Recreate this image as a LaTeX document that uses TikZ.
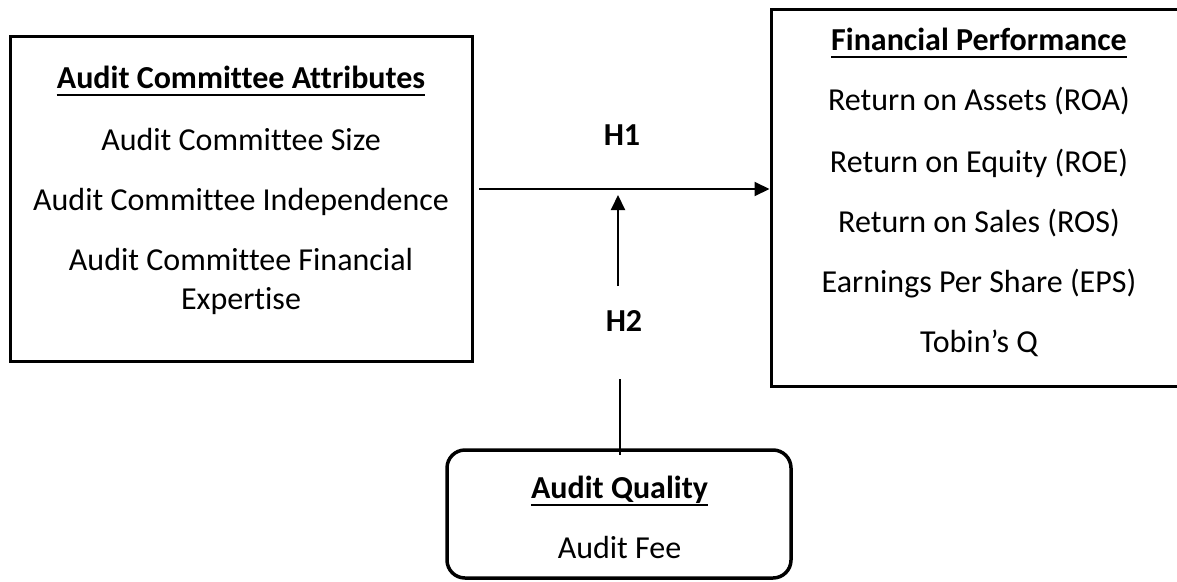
\documentclass[tikz,border=0pt]{standalone}
\usepackage{fontspec}
\setmainfont{Carlito}[Ligatures={NoCommon}]
\usetikzlibrary{arrows.meta}
\begin{document}
\begin{tikzpicture}[x=1pt,y=-1pt,
  box/.style={draw,line width=3pt,inner sep=0pt},
  txt/.style={font=\fontsize{32}{38}\selectfont,inner sep=0pt,anchor=base},
  ttl/.style={txt,font=\fontsize{32}{38}\selectfont\bfseries},
  uline/.style={line width=2.5pt},
  arr/.style={line width=2pt,-{Triangle[length=15pt,width=14pt]}},
  ln/.style={line width=2pt}]
\useasboundingbox (0,0) rectangle (1177,581);

% boxes
\node[box,minimum width=462pt,minimum height=325pt] (acab) at (241,198.5) {};
\node[box,minimum width=409pt,minimum height=377pt] (fp) at (975.5,197.5) {};
\node[box,line width=3.5pt,rounded corners=18pt,minimum width=344pt,minimum height=128pt] (aq) at (619,514) {};

% left box text
\node[ttl] (acat) at (241,88) {Audit Committee Attributes};
\node[txt] (acs) at (241,150) {Audit Committee Size};
\node[txt] (aci) at (241,210) {Audit Committee Independence};
\node[txt] (acf) at (241,270) {Audit Committee Financial};
\node[txt] (ace) at (241,309) {Expertise};

% right box text
\node[ttl] (fpt) at (979,50) {Financial Performance};
\node[txt] (roa) at (979,110) {Return on Assets (ROA)};
\node[txt] (roe) at (979,172) {Return on Equity (ROE)};
\node[txt] (ros) at (979,232) {Return on Sales (ROS)};
\node[txt] (eps) at (979,292) {Earnings Per Share (EPS)};
\node[txt] (tq) at (979,352) {Tobin’s Q};

% bottom box text
\node[ttl] (aqt) at (619.5,498) {Audit Quality};
\node[txt] (fee) at (619.5,558) {Audit Fee};

% underlines
\foreach \n in {acat,fpt,aqt}
  \draw[uline] ([yshift=-7pt]\n.base west) -- ([yshift=-7pt]\n.base east);

% hypothesis labels
\node[ttl] (h1) at (622,145) {H1};
\node[ttl] (h2) at (624,331) {H2};

% connectors
\coordinate (h1a) at (479,189);
\draw[arr] (h1a) -- (fp.west |- h1a);
\coordinate (h2top) at (618,195);
\coordinate (h2bot) at (618,286);
\draw[arr] (h2bot) -- (h2top);
\coordinate (aqup) at (620,379);
\draw[ln] (aqup) -- ([yshift=-7pt]aq.north -| aqup);
\end{tikzpicture}
\end{document}
